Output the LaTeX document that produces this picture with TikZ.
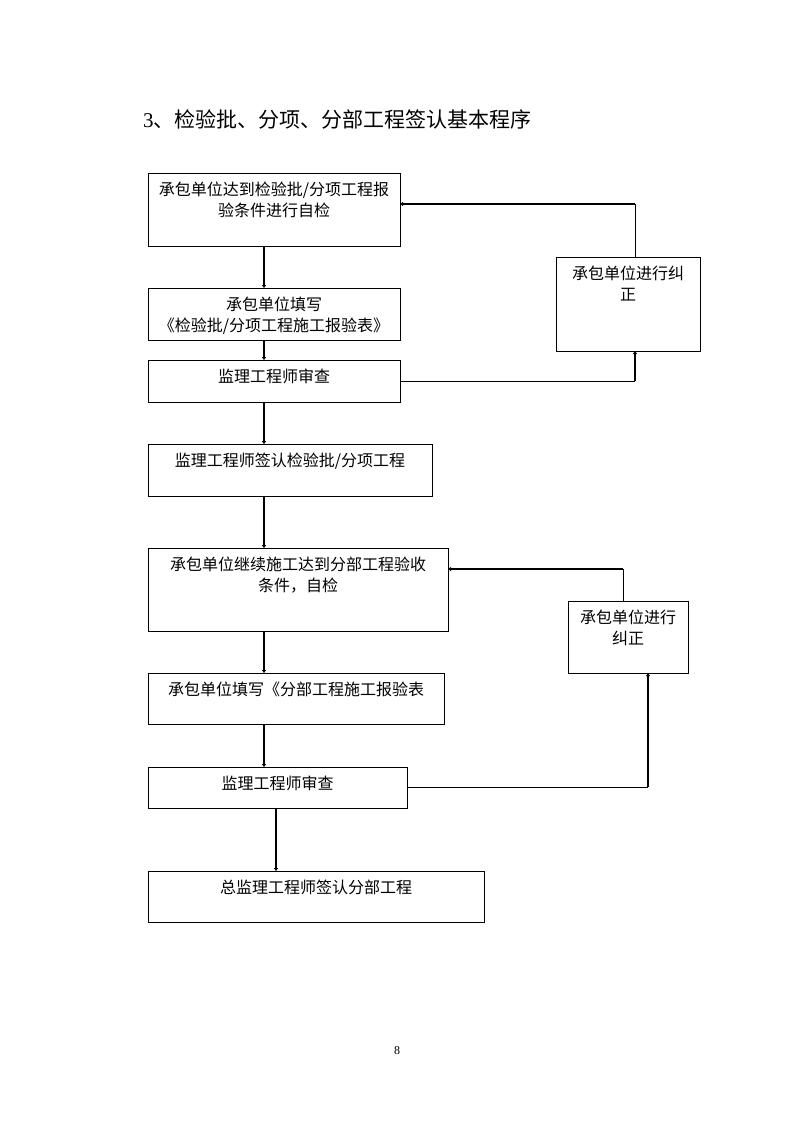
\documentclass[tikz,border=0pt]{standalone}
\usepackage{fontspec}
\setmainfont{Noto Sans CJK SC}
\newfontfamily\latinserif{Liberation Serif}
\usetikzlibrary{arrows.meta}
\begin{document}
\begin{tikzpicture}[x=1pt,y=-1pt]
\tikzset{
 box/.style={draw, line width=0.9pt, rectangle, anchor=north west, inner sep=0pt, outer sep=0pt},
 lbl/.style={anchor=north, font=\fontsize{16}{21}\selectfont, align=center, inner sep=0pt, yshift=-9pt},
 thickln/.style={line width=1.8pt},
 thinln/.style={line width=0.9pt},
 arr/.style={-{Triangle[length=3pt,width=4pt]}}
}
\path[use as bounding box, fill=white] (0,0) rectangle (794,1123);
% title
\node[anchor=base west, inner sep=0pt, font=\fontsize{21}{25}\selectfont] (title) at (143,128) {{\latinserif 3}、检验批、分项、分部工程签认基本程序};
% main column
\node[box, minimum width=252pt, minimum height=73pt, label={[lbl]north:{承包单位达到检验批/分项工程报\\验条件进行自检}}] (b1) at (148,173) {};
\node[box, minimum width=252pt, minimum height=52pt, label={[lbl]north:{承包单位填写\\《检验批/分项工程施工报验表》}}] (b2) at (148,288) {};
\node[box, minimum width=252pt, minimum height=42pt, label={[lbl]north:{监理工程师审查}}] (b3) at (148,360) {};
\node[box, minimum width=284pt, minimum height=52pt, label={[lbl]north:{监理工程师签认检验批/分项工程}}] (b4) at (148,444) {};
\node[box, minimum width=300pt, minimum height=83pt, label={[lbl]north:{承包单位继续施工达到分部工程验收\\条件，自检}}] (b5) at (148,548) {};
\node[box, minimum width=296pt, minimum height=51pt, label={[lbl]north:{承包单位填写《分部工程施工报验表}}] (b6) at (148,673) {};
\node[box, minimum width=259pt, minimum height=41pt, label={[lbl]north:{监理工程师审查}}] (b7) at (148,767) {};
\node[box, minimum width=336pt, minimum height=51pt, label={[lbl]north:{总监理工程师签认分部工程}}] (b8) at (148,871) {};
% correction boxes
\node[box, minimum width=144pt, minimum height=94pt, label={[lbl]north:{承包单位进行纠\\正}}] (bA) at (556,257) {};
\node[box, minimum width=120pt, minimum height=72pt, label={[lbl]north:{承包单位进行\\纠正}}] (bB) at (568,601) {};
% helper coordinates
\coordinate (col1) at (264,0);
\coordinate (col2) at (276,0);
\coordinate (ka) at (635,204);
\coordinate (kb) at (635,381);
\coordinate (kc) at (623,569);
\coordinate (kd) at (648,787);
% main flow
\draw[thickln,arr] (b1.south -| col1) -- (b2.north -| col1);
\draw[thickln,arr] (b2.south -| col1) -- (b3.north -| col1);
\draw[thickln,arr] (b3.south -| col1) -- (b4.north -| col1);
\draw[thickln,arr] (b4.south -| col1) -- (b5.north -| col1);
\draw[thickln,arr] (b5.south -| col1) -- (b6.north -| col1);
\draw[thickln,arr] (b6.south -| col1) -- (b7.north -| col1);
\draw[thickln,arr] (b7.south -| col2) -- (b8.north -| col2);
% feedback loop 1
\draw[thinln] (bA.north -| ka) -- (ka);
\draw[thickln,arr] (ka) -- (b1.east |- ka);
\draw[thinln] (b3.east |- kb) -- (kb);
\draw[thickln,arr] (kb) -- (bA.south -| kb);
% feedback loop 2
\draw[thinln] (bB.north -| kc) -- (kc);
\draw[thickln,arr] (kc) -- (b5.east |- kc);
\draw[thinln] (b7.east |- kd) -- (kd);
\draw[thickln,arr] (kd) -- (bB.south -| kd);
% page number
\node[anchor=base, inner sep=0pt, font=\latinserif\fontsize{12}{14}\selectfont] (pg) at (397,1054) {8};
\end{tikzpicture}
\end{document}
